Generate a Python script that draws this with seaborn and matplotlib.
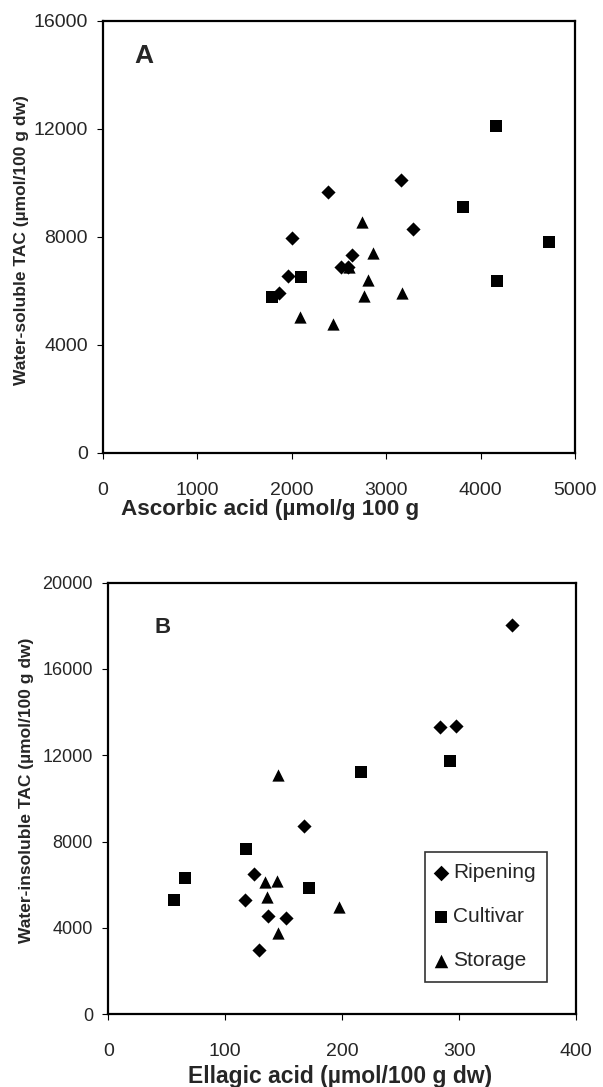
import numpy as np
import pandas as pd
import matplotlib
matplotlib.use("Agg")
import matplotlib.pyplot as plt
import seaborn as sns

# Panel A: ascorbic acid vs water-soluble TAC
a_ripening_x = [2380, 3160, 2000, 3280, 2640, 2520, 2600, 1960, 1860]
a_ripening_y = [9650, 10100, 7980, 8310, 7340, 6880, 6900, 6540, 5930]
a_cultivar_x = [4160, 3810, 4720, 4170, 2100, 1790]
a_cultivar_y = [12110, 9100, 7800, 6380, 6520, 5790]
a_storage_x = [2740, 2860, 2610, 2810, 2770, 3170, 2090, 2440]
a_storage_y = [8570, 7400, 6900, 6410, 5830, 5910, 5030, 4780]

# Panel B: ellagic acid vs water-insoluble TAC
b_ripening_x = [345, 284, 297, 167, 125, 117, 137, 152, 129]
b_ripening_y = [18030, 13300, 13380, 8710, 6520, 5300, 4540, 4450, 2990]
b_cultivar_x = [292, 216, 118, 66, 56, 172]
b_cultivar_y = [11720, 11240, 7680, 6330, 5280, 5840]
b_storage_x = [145, 134, 144, 136, 197, 145]
b_storage_y = [11090, 6130, 6190, 5450, 4960, 3750]

groups = ["Ripening", "Cultivar", "Storage"]
markers = {"Ripening": "D", "Cultivar": "s", "Storage": "^"}
sizes = {"Ripening": 52, "Cultivar": 65, "Storage": 78}


def make_df(xs, ys):
    rows = []
    for g, x, y in zip(groups, xs, ys):
        for xi, yi in zip(x, y):
            rows.append({"x": xi, "y": yi, "group": g})
    return pd.DataFrame(rows)


df_a = make_df([a_ripening_x, a_cultivar_x, a_storage_x],
               [a_ripening_y, a_cultivar_y, a_storage_y])
df_b = make_df([b_ripening_x, b_cultivar_x, b_storage_x],
               [b_ripening_y, b_cultivar_y, b_storage_y])

sns.set_style("white")
plt.rcParams['font.family'] = ['Liberation Sans', 'DejaVu Sans']

fig = plt.figure(figsize=(6.03, 10.87), dpi=100)
ax_a = fig.add_axes([0.1708, 0.5833, 0.7828, 0.3974])
ax_b = fig.add_axes([0.1796, 0.0669, 0.7756, 0.3971])


def draw(ax, df, legend):
    for g in groups:
        sub = df[df["group"] == g]
        sns.scatterplot(data=sub, x="x", y="y", marker=markers[g], s=sizes[g],
                        color="black", edgecolor="black", linewidth=0,
                        label=g if legend else None, ax=ax)
    for sp in ax.spines.values():
        sp.set_linewidth(1.6)
        sp.set_color("black")
    ax.tick_params(axis="both", direction="out", length=4, width=0.8,
                   color="black", left=True, bottom=True)
    ax.tick_params(axis="x", pad=17)


# ---- Panel A
draw(ax_a, df_a, False)
ax_a.set_xlim(0, 5000)
ax_a.set_ylim(0, 16000)
ax_a.set_xticks([0, 1000, 2000, 3000, 4000, 5000])
ax_a.set_yticks([0, 4000, 8000, 12000, 16000])
ax_a.tick_params(axis="both", labelsize=14)
ax_a.tick_params(axis="y", pad=7)
ax_a.set_xlabel("Ascorbic acid (µmol/g 100 g", fontsize=16.2, fontweight="bold", va="center")
ax_a.xaxis.set_label_coords(0.355, -0.132)
ax_a.set_ylabel("Water-soluble TAC (µmol/100 g dw)", fontsize=12.5, fontweight="bold", va="center")
ax_a.yaxis.set_label_coords(-0.172, 0.493)
ax_a.text(0.086, 0.918, "A", transform=ax_a.transAxes, fontsize=19, fontweight="bold",
          ha="center", va="center")

# ---- Panel B
draw(ax_b, df_b, True)
ax_b.set_xlim(0, 400)
ax_b.set_ylim(0, 20000)
ax_b.set_xticks([0, 100, 200, 300, 400])
ax_b.set_yticks([0, 4000, 8000, 12000, 16000, 20000])
ax_b.tick_params(axis="x", labelsize=14)
ax_b.tick_params(axis="y", labelsize=13, pad=7)
ax_b.set_xlabel("Ellagic acid (µmol/100 g dw)", fontsize=16.5, fontweight="bold", va="center")
ax_b.xaxis.set_label_coords(0.495, -0.143)
ax_b.set_ylabel("Water-insoluble TAC (µmol/100 g dw)", fontsize=12.5, fontweight="bold", va="center")
ax_b.yaxis.set_label_coords(-0.174, 0.52)
ax_b.text(0.116, 0.895, "B", transform=ax_b.transAxes, fontsize=16, fontweight="bold",
          ha="center", va="center")

leg = ax_b.legend(loc="upper left", bbox_to_anchor=(0.677, 0.376),
                  frameon=True, fancybox=False, fontsize=15,
                  handletextpad=0.35, handlelength=0.45, labelspacing=1.2,
                  borderpad=0.55, borderaxespad=0, markerscale=1.1)
leg.get_frame().set_edgecolor("black")
leg.get_frame().set_linewidth(1.2)

fig.savefig("out.png", dpi=100)
